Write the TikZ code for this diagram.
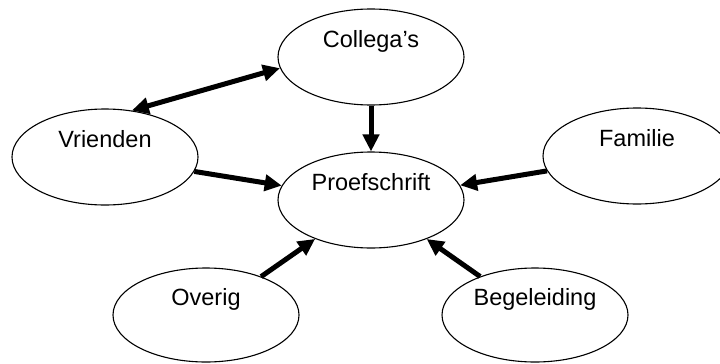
\documentclass[tikz,border=0pt]{standalone}
\usepackage{fontspec}
\setmainfont{Liberation Sans}
\usetikzlibrary{shapes.geometric,arrows.meta}

\begin{document}
\begin{tikzpicture}[x=1pt,y=-1pt,
	>={Triangle[length=17pt,width=16pt]},
	bubble/.style={ellipse, draw, line width=1.1pt, minimum width=186pt, minimum height=96pt,
		text height=17pt, text depth=37pt, font=\fontsize{23.5}{28}\selectfont},
	link/.style={line width=5pt}]
				% the people around the thesis
				\useasboundingbox (0,0) rectangle (720,364);
				
				\node[bubble] (collegas) at (371,57) {Collega’s};
				\node[bubble] (vrienden) at (105,157) {Vrienden};
				\node[bubble] (proef) at (371,200) {Proefschrift};
				\node[bubble, minimum width=188pt] (familie) at (637,156) {Familie};
				\node[bubble, minimum height=94pt] (overig) at (206,315) {Overig};
				\node[bubble, minimum height=94pt] (begeleiding) at (535,315) {Begeleiding};
				
				\draw[link, <->] (vrienden.60) -- (collegas.187);
				\draw[link, ->] (collegas) -- (proef);
				\draw[link, ->] (vrienden) -- (proef);
				\draw[link, ->] (familie) -- (proef);
				\draw[link, ->] (overig) -- (proef);
				\draw[link, ->] (begeleiding) -- (proef);
				
\end{tikzpicture}
\end{document}
